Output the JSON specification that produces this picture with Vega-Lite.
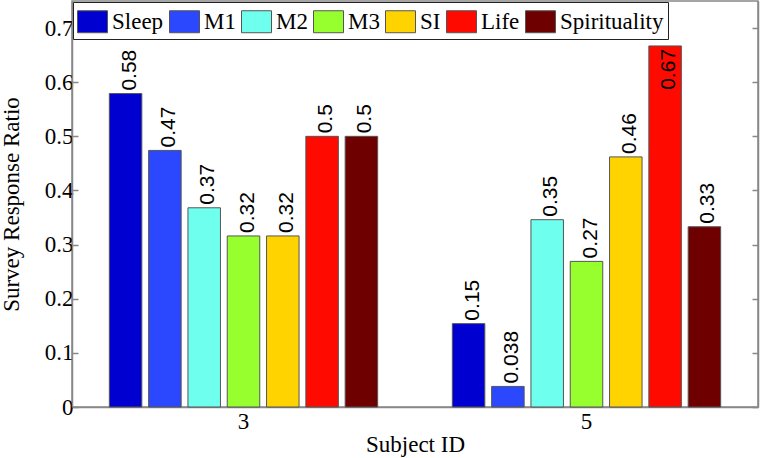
{
  "$schema": "https://vega.github.io/schema/vega-lite/v6.json",
  "width": 686,
  "height": 406,
  "autosize": {"type": "none"},
  "padding": {"left": 72, "top": 1, "right": 2, "bottom": 51},
  "background": "white",
  "data": {
    "values": [
      {"subject": "3", "measure": "Sleep", "value": 0.579},
      {"subject": "3", "measure": "M1", "value": 0.474},
      {"subject": "3", "measure": "M2", "value": 0.368},
      {"subject": "3", "measure": "M3", "value": 0.316},
      {"subject": "3", "measure": "SI", "value": 0.316},
      {"subject": "3", "measure": "Life", "value": 0.5},
      {"subject": "3", "measure": "Spirituality", "value": 0.5},
      {"subject": "5", "measure": "Sleep", "value": 0.154},
      {"subject": "5", "measure": "M1", "value": 0.038},
      {"subject": "5", "measure": "M2", "value": 0.346},
      {"subject": "5", "measure": "M3", "value": 0.269},
      {"subject": "5", "measure": "SI", "value": 0.462},
      {"subject": "5", "measure": "Life", "value": 0.667},
      {"subject": "5", "measure": "Spirituality", "value": 0.333}
    ]
  },
  "encoding": {
    "x": {
      "field": "subject",
      "type": "nominal",
      "scale": {"paddingInner": 0, "paddingOuter": 0},
      "axis": {
        "title": "Subject ID",
        "labelAngle": 0,
        "ticks": false,
        "labelPadding": 3,
        "titlePadding": 0
      }
    },
    "xOffset": {
      "field": "measure",
      "type": "nominal",
      "sort": ["Sleep", "M1", "M2", "M3", "SI", "Life", "Spirituality"],
      "scale": {"paddingInner": 0.173, "paddingOuter": 0.95}
    },
    "y": {
      "field": "value",
      "type": "quantitative",
      "scale": {"domain": [0, 0.75], "nice": false}
    }
  },
  "layer": [
    {
      "mark": {"type": "bar", "stroke": "#555555", "strokeWidth": 1},
      "encoding": {
        "y": {
          "field": "value",
          "type": "quantitative",
          "axis": {
            "title": "Survey Response Ratio",
            "values": [0, 0.1, 0.2, 0.3, 0.4, 0.5, 0.6, 0.7],
            "format": "~g",
            "tickSize": -6,
            "labelPadding": 5,
            "titlePadding": 21
          }
        },
        "color": {
          "field": "measure",
          "type": "nominal",
          "scale": {
            "domain": ["Sleep", "M1", "M2", "M3", "SI", "Life", "Spirituality"],
            "range": ["#0000D0", "#2B48FF", "#6FFFEF", "#97FF2E", "#FFD300", "#FF0A00", "#6E0000"]
          },
          "legend": {
            "title": null,
            "orient": "top-left",
            "offset": 1,
            "direction": "horizontal",
            "symbolType": "M-1,-0.733H1V0.733H-1Z",
            "symbolSize": 900,
            "symbolStrokeColor": "#555555",
            "symbolStrokeWidth": 1,
            "labelOffset": 4,
            "columnPadding": 3,
            "padding": 4,
            "strokeColor": "#222222",
            "fillColor": "white",
            "labelFont": "Liberation Serif",
            "labelFontSize": 23
          }
        }
      }
    },
    {
      "transform": [{"filter": "datum.value < 0.6"}],
      "mark": {
        "type": "text",
        "angle": 270,
        "align": "left",
        "baseline": "alphabetic",
        "dx": 3,
        "dy": 10,
        "font": "Liberation Sans",
        "fontSize": 21,
        "color": "black"
      },
      "encoding": {
        "y": {
          "field": "value",
          "type": "quantitative",
          "axis": {
            "orient": "right",
            "title": null,
            "labels": false,
            "values": [0, 0.1, 0.2, 0.3, 0.4, 0.5, 0.6, 0.7],
            "tickSize": -6
          }
        },
        "text": {"field": "value", "type": "quantitative", "format": ".2~r"}
      }
    },
    {
      "transform": [{"filter": "datum.value >= 0.6"}],
      "mark": {
        "type": "text",
        "angle": 270,
        "align": "right",
        "baseline": "alphabetic",
        "dx": -3,
        "dy": 10,
        "font": "Liberation Sans",
        "fontSize": 21,
        "color": "black"
      },
      "encoding": {
        "y": {"field": "value", "type": "quantitative", "axis": null},
        "text": {"field": "value", "type": "quantitative", "format": ".2~r"}
      }
    }
  ],
  "resolve": {"axis": {"y": "independent"}},
  "config": {
    "view": {"stroke": "#888888", "strokeWidth": 1.5},
    "font": "Liberation Serif",
    "axis": {
      "grid": false,
      "domainColor": "#888888",
      "domainWidth": 1.5,
      "tickColor": "#888888",
      "tickWidth": 1.5,
      "labelFont": "Liberation Serif",
      "labelFontSize": 23,
      "labelColor": "black",
      "titleFont": "Liberation Serif",
      "titleFontSize": 23,
      "titleFontWeight": "normal",
      "titleColor": "black"
    },
    "legend": {
      "labelFont": "Liberation Serif",
      "labelFontSize": 23,
      "labelColor": "black",
      "labelLimit": 0
    }
  }
}
